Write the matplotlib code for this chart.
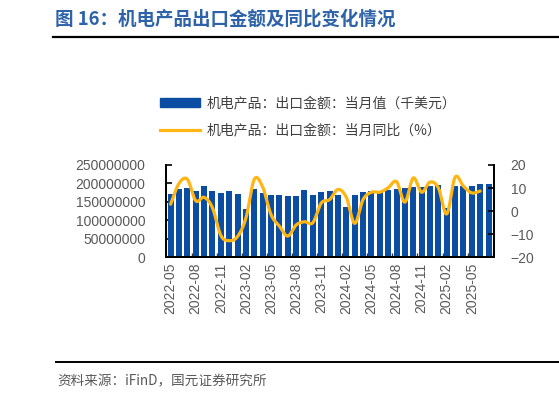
import numpy as np
import matplotlib
matplotlib.use("Agg")
import matplotlib.pyplot as plt
from matplotlib.patches import Patch
from matplotlib.lines import Line2D
from matplotlib.ticker import FixedLocator, FuncFormatter

plt.rcParams['font.family'] = ['Liberation Sans', 'Noto Sans CJK SC', 'DejaVu Sans']

# ---- data ----
months = [f"{y}-{m:02d}" for y in (2022, 2023, 2024, 2025) for m in range(1, 13)]
months = months[4:4 + 39]  # 2022-05 .. 2025-07

export_value = [171e6, 186e6, 188e6, 180e6, 194e6, 180e6, 175e6, 180e6, 171e6, 130e6,
                184e6, 173e6, 168e6, 170e6, 167e6, 167e6, 181e6, 169e6, 176e6, 180e6,
                170e6, 135e6, 170e6, 176e6, 180e6, 180e6, 183e6, 186e6, 187e6, 191e6,
                191e6, 194e6, 195e6, 134e6, 193e6, 193e6, 193e6, 198e6, 198e6]

yoy = [3.0, 12.0, 13.8, 4.5, 6.0, 1.5, -10.5, -12.8, -11.0, -3.0,
       13.8, 10.5, -1.5, -6.5, -10.8, -6.0, -4.6, -5.0, 3.5, 5.0,
       9.4, 6.0, -5.3, 5.0, 8.2, 8.2, 10.1, 12.8, 3.9, 14.4,
       8.2, 12.6, 10.1, -1.2, 14.7, 10.8, 7.9, 8.7]

legend_labels = ["机电产品：出口金额：当月值（千美元）", "机电产品：出口金额：当月同比（%）"]
title = "图 16：机电产品出口金额及同比变化情况"
source = "资料来源：iFinD，国元证券研究所"

BAR_C = "#0B4DA2"
LINE_C = "#FFB612"
TXT_C = "#595959"


def catmull_rom(xs, ys, n=20):
    xs = np.asarray(xs, float); ys = np.asarray(ys, float)
    px = np.concatenate([[2 * xs[0] - xs[1]], xs, [2 * xs[-1] - xs[-2]]])
    py = np.concatenate([[2 * ys[0] - ys[1]], ys, [2 * ys[-1] - ys[-2]]])
    ox, oy = [], []
    t = np.linspace(0, 1, n, endpoint=False)
    for i in range(1, len(px) - 2):
        for arr, out in ((px, ox), (py, oy)):
            p0, p1, p2, p3 = arr[i - 1], arr[i], arr[i + 1], arr[i + 2]
            out.extend(0.5 * ((2 * p1) + (-p0 + p2) * t + (2 * p0 - 5 * p1 + 4 * p2 - p3) * t ** 2
                              + (-p0 + 3 * p1 - 3 * p2 + p3) * t ** 3))
    ox.append(xs[-1]); oy.append(ys[-1])
    return np.array(ox), np.array(oy)


W, H = 559, 397
fig = plt.figure(figsize=(W / 100, H / 100), dpi=100)

# title & rules
fig.text(55 / W, 1 - 19 / H, title, fontsize=13.3, fontweight='bold', color="#2E63A9",
         family=['Noto Sans CJK SC', 'DejaVu Sans'], va='center', ha='left')
fig.add_artist(Line2D([53 / W, 1.0], [1 - 36.5 / H] * 2, color='black', lw=1.6))
fig.add_artist(Line2D([56 / W, 1.0], [1 - 362 / H] * 2, color='black', lw=1.4))
fig.text(57 / W, 1 - 381 / H, source, fontsize=9.8, color=TXT_C,
         family=['Noto Sans CJK SC', 'DejaVu Sans'], va='center', ha='left')

ax = fig.add_axes([166 / W, 1 - 257.3 / H, (494 - 166) / W, (257.3 - 165) / H])
x = np.arange(len(months))
ax.bar(x, export_value, width=0.72, color=BAR_C, zorder=2)
ax.set_xlim(-0.55, len(months) - 0.35)
ax.set_ylim(0, 250e6)
ax.yaxis.set_major_locator(FixedLocator(np.arange(0, 250e6 + 1, 50e6)))
ax.yaxis.set_major_formatter(FuncFormatter(lambda v, p: f"{int(round(v))}"))

ax2 = ax.twinx()
sx, sy = catmull_rom(x[:len(yoy)], yoy)
ax2.plot(sx, sy, color=LINE_C, lw=2.3, solid_capstyle='round', zorder=3)
ax2.set_ylim(-20, 20)
ax2.set_yticks([-20, -10, 0, 10, 20])

ax.set_xticks(x[::3])
ax.set_xticklabels(months[::3], rotation=90)
ax.set_xticks(np.arange(2.5, len(months), 3), minor=True)

for a in (ax, ax2):
    a.spines['top'].set_visible(False)
    for s in ('left', 'right', 'bottom'):
        a.spines[s].set_linewidth(1.3)
        a.spines[s].set_color('black')
ax.tick_params(axis='x', which='major', length=0, pad=4, labelsize=10, labelcolor=TXT_C)
ax.tick_params(axis='x', which='minor', length=3, direction='in', width=1, color='#333333')
ax.tick_params(axis='y', direction='in', length=4, width=1.2, pad=15, labelsize=10, labelcolor=TXT_C)
ax2.tick_params(axis='y', direction='in', length=4, width=1.2, pad=12, labelsize=10, labelcolor=TXT_C)

handles = [Patch(facecolor=BAR_C, edgecolor=BAR_C, joinstyle='round'),
           Line2D([0], [0], color=LINE_C, lw=2.3)]
fig.legend(handles, legend_labels, loc='upper left', bbox_to_anchor=(160 / W, 1 - 96 / H),
           frameon=False, handlelength=2.9, handleheight=0.6, handletextpad=0.45,
           labelspacing=0.95, borderpad=0, borderaxespad=0,
           prop={'family': ['Noto Sans CJK SC', 'DejaVu Sans'], 'size': 10},
           labelcolor='#404040')

fig.savefig("out.png", dpi=100)
